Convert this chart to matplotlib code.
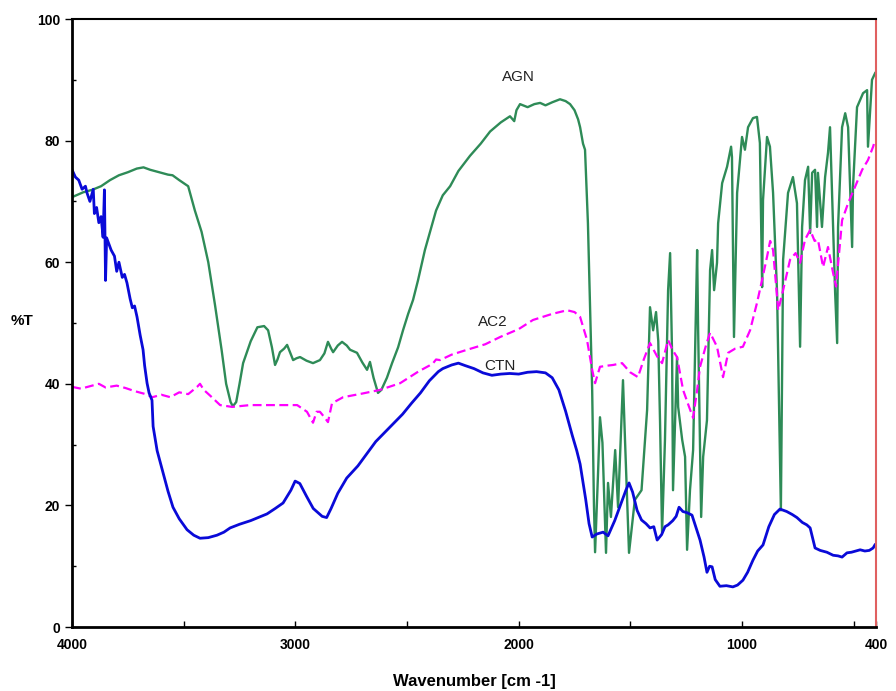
import matplotlib
matplotlib.use("Agg")
import matplotlib.pyplot as plt

# ── FTIR spectra (wavenumber cm-1, %T) ───────────────────────────────────────
ctn_wn = [4000, 3985, 3970, 3955, 3940, 3933, 3920, 3905, 3900, 3890, 3880, 3870,
          3861, 3855, 3850, 3845, 3835, 3825, 3810, 3800, 3790, 3775, 3765, 3754,
          3740, 3730, 3720, 3709, 3695, 3682, 3675, 3664, 3655, 3642, 3637, 3619,
          3592, 3570, 3548, 3520, 3485, 3455, 3427, 3390, 3351, 3320, 3292, 3250,
          3200, 3160, 3127, 3090, 3055, 3020, 3001, 2980, 2950, 2920, 2880, 2860,
          2840, 2810, 2770, 2720, 2680, 2640, 2600, 2560, 2520, 2480, 2440, 2400,
          2360, 2340, 2300, 2270, 2240, 2200, 2160, 2120, 2080, 2040, 2000, 1960,
          1920, 1880, 1850, 1820, 1790, 1760, 1740, 1725, 1700, 1685, 1671, 1650,
          1622, 1600, 1570, 1540, 1520, 1506, 1490, 1470, 1450, 1430, 1412, 1395,
          1380, 1360, 1345, 1331, 1310, 1295, 1282, 1265, 1246, 1224, 1210, 1188,
          1170, 1157, 1145, 1134, 1120, 1099, 1070, 1041, 1020, 996, 975, 951, 930,
          906, 880, 855, 830, 800, 775, 754, 730, 710, 695, 680, 673, 650, 620,
          592, 570, 552, 530, 510, 490, 471, 450, 430, 413, 405]
ctn_t = [75.2, 74, 73.5, 72, 72.5, 71.4, 70, 72, 68, 69, 66.5, 67.5,
         64.1, 71.9, 57, 64, 63, 62, 61, 58.5, 60, 57.5, 58, 56.6,
         54, 52.5, 52.8, 51, 48, 45.6, 43, 40.1, 38.5, 37.3, 33, 29,
         25.3, 22.3, 19.7, 17.8, 16, 15.1, 14.6, 14.7, 15.1, 15.6, 16.3, 16.9,
         17.5, 18.1, 18.6, 19.5, 20.4, 22.5, 24.0, 23.6, 21.5, 19.5, 18.2, 18,
         19.5, 22, 24.5, 26.5, 28.5, 30.5, 32, 33.5, 35, 36.8, 38.5, 40.5,
         42, 42.5, 43.1, 43.4, 43, 42.5, 41.8, 41.4, 41.6, 41.7, 41.6, 41.9,
         42, 41.8, 41, 39, 35.5, 31.5, 29, 26.8, 21, 17, 14.8, 15.3,
         15.6, 15, 17.5, 20.5, 22.5, 23.7, 22.2, 19.2, 17.6, 17, 16.3, 16.5,
         14.3, 15.2, 16.5, 16.8, 17.5, 18.2, 19.7, 19, 18.8, 18.4, 16.8, 14.3,
         11.5, 9, 10, 9.9, 7.8, 6.7, 6.8, 6.6, 6.9, 7.7, 9, 11, 12.5,
         13.5, 16.5, 18.5, 19.4, 19, 18.5, 18, 17.2, 16.8, 16.3, 14, 13, 12.6, 12.3,
         11.8, 11.7, 11.5, 12.2, 12.3, 12.5, 12.7, 12.5, 12.6, 13, 13.5]

agn_wn = [4000, 3950, 3910, 3870, 3830, 3790, 3750, 3710, 3680, 3650, 3610, 3570,
          3550, 3520, 3480, 3450, 3420, 3390, 3360, 3330, 3310, 3290, 3280, 3265,
          3250, 3234, 3200, 3170, 3140, 3122, 3105, 3091, 3080, 3069, 3050, 3037,
          3020, 3010, 2995, 2979, 2950, 2921, 2890, 2870, 2854, 2840, 2831, 2810,
          2791, 2770, 2755, 2724, 2700, 2679, 2666, 2650, 2630, 2615, 2590, 2567,
          2540, 2518, 2495, 2473, 2451, 2420, 2397, 2370, 2340, 2307, 2270, 2218,
          2170, 2128, 2080, 2039, 2020, 2010, 1994, 1960, 1930, 1904, 1880, 1850,
          1815, 1790, 1770, 1750, 1734, 1725, 1712, 1703, 1690, 1671, 1663, 1658,
          1645, 1636, 1625, 1609, 1600, 1587, 1568, 1555, 1533, 1524, 1506, 1480,
          1450, 1425, 1412, 1398, 1385, 1375, 1367, 1358, 1345, 1331, 1322, 1313,
          1309, 1300, 1291, 1286, 1268, 1255, 1246, 1233, 1219, 1201, 1197, 1183,
          1174, 1157, 1143, 1134, 1125, 1112, 1107, 1089, 1067, 1049, 1045, 1036,
          1022, 1000, 987, 973, 951, 933, 920, 910, 906, 888, 875, 861, 843, 826,
          816, 794, 772, 754, 740, 731, 718, 704, 695, 686, 673, 664, 660, 642,
          628, 615, 606, 597, 583, 574, 570, 552, 538, 525, 507, 503, 485, 471,
          458, 440, 436, 418, 404]
agn_t = [70.7, 71.5, 71.9, 72.5, 73.5, 74.3, 74.8, 75.4, 75.6, 75.2, 74.8, 74.4,
         74.3, 73.5, 72.5, 68.5, 65, 60, 53, 45.5, 40, 37, 36.3, 37,
         40, 43.4, 47, 49.3, 49.5, 48.8, 46, 43.1, 44, 45.2, 45.8, 46.4,
         44.8, 43.9, 44.2, 44.4, 43.8, 43.4, 43.9, 45, 46.9, 45.8, 45.2, 46.3,
         46.9, 46.3, 45.6, 45.1, 43.5, 42.3, 43.6, 41, 38.5, 39, 41, 43.4,
         46, 48.8, 51.5, 53.8, 57, 62, 65, 68.5, 71, 72.5, 75, 77.5,
         79.5, 81.5, 83, 84, 83.2, 85, 86, 85.5, 86, 86.2, 85.8, 86.3,
         86.8, 86.5, 86, 85, 83.5, 82.2, 79.5, 78.5, 66.4, 39, 20, 12.3,
         25, 34.5, 30.3, 12.2, 23.7, 18.1, 29.1, 19.7, 40.6, 30.8, 12.2, 20.9,
         22.5, 35.7, 52.6, 48.8, 51.8, 47, 33.6, 15.5, 30.8, 55.4, 61.5, 44.4,
         22.5, 33.6, 44.4, 36.2, 30.8, 28, 12.7, 22.5, 29.1, 62, 50, 18.1,
         28, 34, 58.7, 62, 55.4, 59.9, 66.4, 73, 75.7, 79, 77.3, 47.7,
         71.4, 80.6, 78.5, 82.2, 83.7, 83.9, 79.6, 55.9, 70.2, 80.6, 79, 71.4, 54.9, 19.2,
         60.4, 71.4, 74, 69.7, 46.1, 65.8, 73.5, 75.7, 64.8, 74.7, 75.2, 65.8, 74.7, 65.8,
         74, 78, 82.2, 71.4, 54.9, 46.7, 65.8, 82.2, 84.5, 82.2, 62.5, 72.4, 85.5, 86.7,
         87.8, 88.3, 79, 90, 91.1]

ac2_wn = [4000, 3960, 3920, 3880, 3850, 3800, 3760, 3720, 3700, 3670, 3640, 3600,
          3560, 3520, 3480, 3440, 3427, 3410, 3380, 3337, 3283, 3203, 3100, 2992,
          2948, 2921, 2905, 2890, 2870, 2854, 2836, 2786, 2700, 2621, 2531, 2450,
          2400, 2383, 2370, 2352, 2300, 2231, 2150, 2083, 2000, 1936, 1850, 1783,
          1750, 1725, 1694, 1671, 1658, 1636, 1600, 1577, 1537, 1501, 1466, 1440,
          1412, 1380, 1358, 1331, 1310, 1291, 1264, 1240, 1219, 1201, 1188, 1160,
          1143, 1112, 1085, 1062, 1030, 996, 964, 933, 910, 888, 874, 861, 838,
          816, 785, 760, 740, 718, 695, 675, 660, 637, 615, 592, 579, 552, 525,
          494, 462, 436, 413, 405]
ac2_t = [39.5, 39.2, 39.6, 40, 39.4, 39.7, 39.3, 38.8, 38.6, 38.3, 37.8, 38.2,
         37.8, 38.6, 38.3, 39.5, 40, 39, 38, 36.5, 36.2, 36.5, 36.5, 36.5,
         35.4, 33.6, 35.4, 35.4, 34.5, 33.7, 36.8, 37.8, 38.4, 39, 40.1, 42,
         43, 43.4, 44, 43.9, 44.8, 45.6, 46.5, 47.7, 49, 50.5, 51.5, 52.1,
         51.8, 51, 47.2, 42.3, 40.1, 42.8, 43, 43.1, 43.4, 41.9, 41.1, 44,
         46.7, 44.5, 43.4, 47.2, 45.5, 44.4, 39, 36.5, 34.4, 39, 42.8, 46.5,
         48.4, 46.1, 41.1, 45.1, 45.8, 46.1, 48.8, 53.3, 57.1, 60.9, 63.5, 62, 52.1,
         55.4, 60.4, 61.5, 59.9, 63.7, 65.3, 63.5, 63.7, 59.2, 62.5, 58.2, 56, 66.9, 69.7,
         72.4, 75.2, 76.8, 79, 80]

series_labels = ["AGN", "AC2", "CTN"]
label_pos = [(2000, 90.5), (2115, 50.2), (2083, 42.9)]

# ── Plot ──────────────────────────────────────────────────────────────────────
plt.rcParams["font.family"] = ["Liberation Sans", "DejaVu Sans"]

fig = plt.figure(figsize=(8.96, 6.91), dpi=100)
ax = fig.add_axes([0.0804, 0.0926, 0.8973, 0.8799])

ax.plot(agn_wn, agn_t, color="#2e8b57", lw=1.7)
ax.plot(ac2_wn, ac2_t, color="#ff00ff", lw=1.6, ls=(0, (4, 2)))
ax.plot(ctn_wn, ctn_t, color="#0a0ad8", lw=2.0)

for lab, (x, y) in zip(series_labels, label_pos):
    ax.text(x, y, lab, fontsize=11, ha="center", va="center", color="#222222")

ax.set_xlim(4000, 400)
ax.set_ylim(0, 100)
ax.set_xticks([4000, 3000, 2000, 1000, 400])
ax.set_xticks([3500, 2500, 1500, 500], minor=True)
ax.set_yticks([0, 20, 40, 60, 80, 100])
ax.set_yticks([10, 30, 50, 70, 90], minor=True)
ax.tick_params(axis="x", which="both", direction="in", length=4, width=1, pad=8)
ax.tick_params(axis="y", which="major", direction="out", length=5, width=1)
ax.tick_params(axis="y", which="minor", direction="in", length=3, width=1)
for lbl in ax.get_xticklabels() + ax.get_yticklabels():
    lbl.set_fontweight("bold")
    lbl.set_fontsize(10)

ax.spines["left"].set_linewidth(2)
ax.spines["bottom"].set_linewidth(2)
ax.spines["top"].set_linewidth(1.5)
ax.spines["right"].set_color("#e06060")
ax.spines["right"].set_linewidth(1.5)

ax.set_xlabel("Wavenumber [cm -1]", fontsize=12, fontweight="bold", labelpad=16)
fig.text(0.025, 0.535, "%T", fontsize=11, fontweight="bold", ha="center", va="center")

plt.savefig("out.png", dpi=100)
